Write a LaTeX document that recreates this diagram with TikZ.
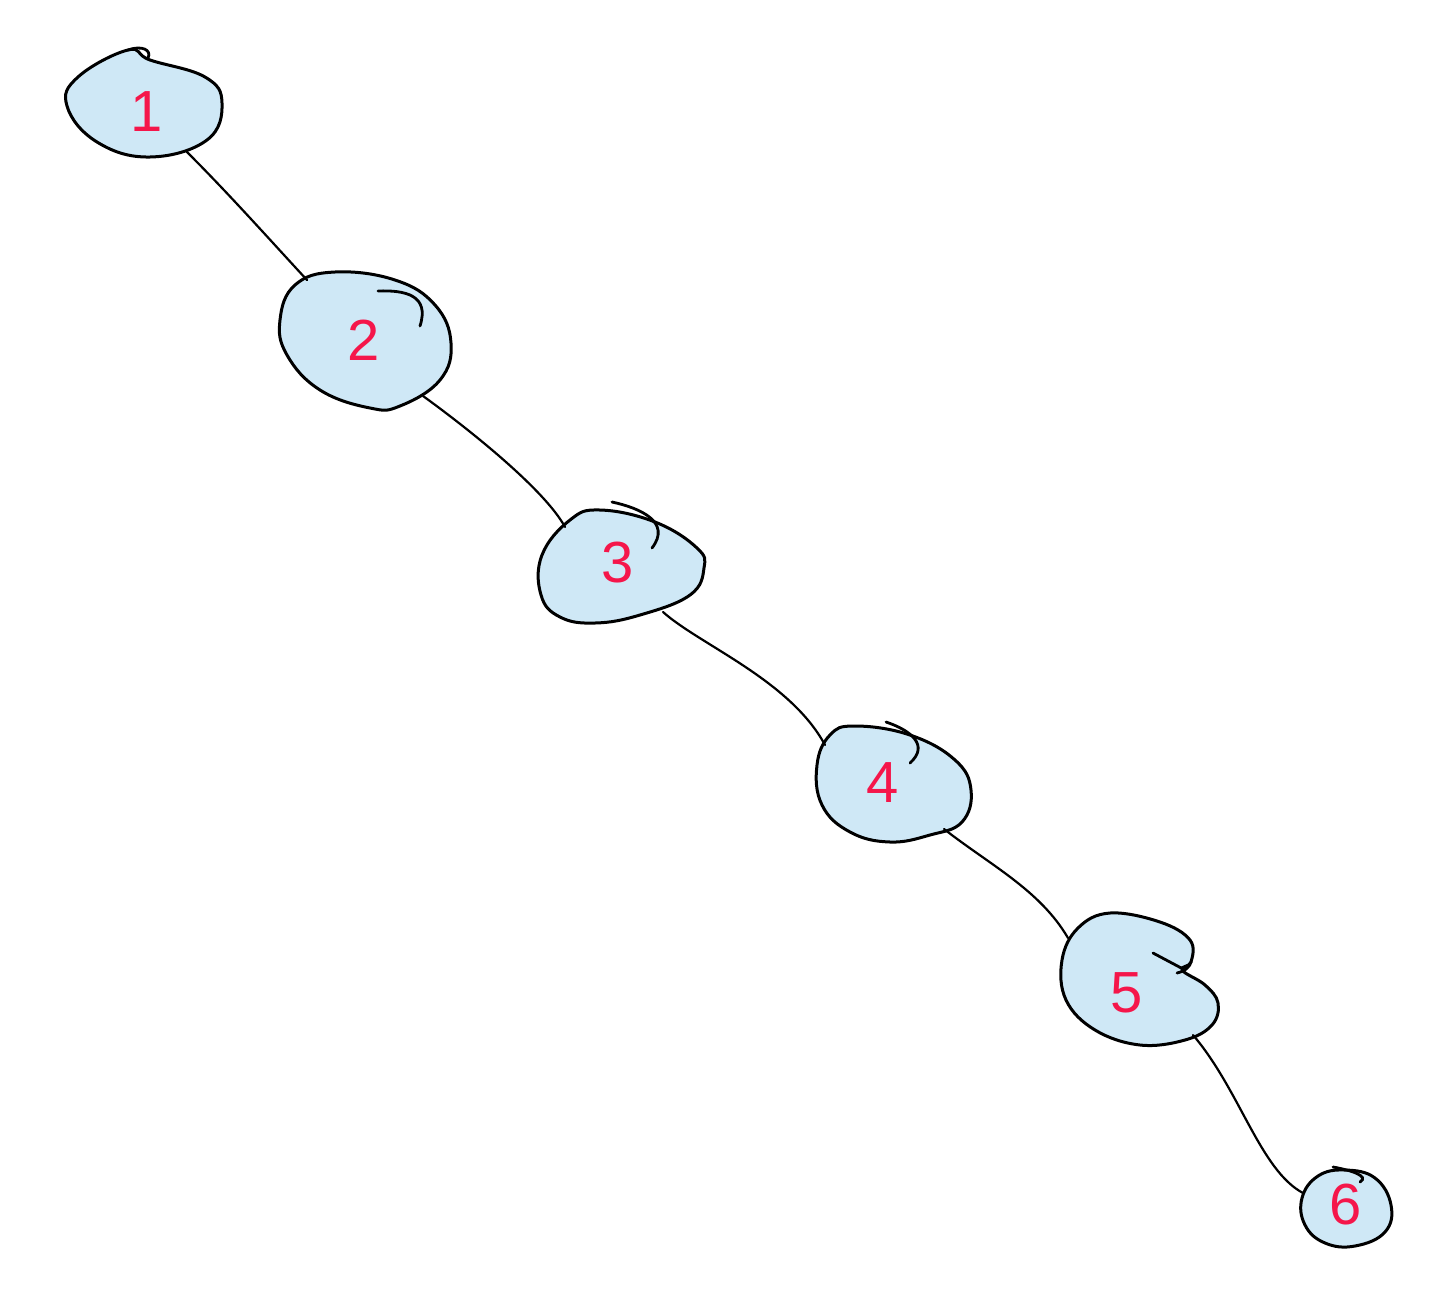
\documentclass[tikz,border=0pt]{standalone}
\usepackage{fontspec}
\setsansfont{Liberation Sans}
\definecolor{blobfill}{HTML}{CFE8F6}
\definecolor{digit}{HTML}{F5164A}
\begin{document}
\begin{tikzpicture}[x=1pt,y=-1pt,
  blob/.style={draw=black,fill=blobfill,line width=3pt,line join=round},
  tail/.style={draw=black,line width=2.8pt,line cap=round},
  link/.style={draw=black,line width=2.2pt,line cap=round},
  lbl/.style={text=digit,font=\sffamily\fontsize{58}{58}\selectfont,inner sep=0pt}]
\useasboundingbox (0,0) rectangle (1431,1315);
% blob 1
\draw[blob] plot[smooth cycle,tension=0.7] coordinates{(150,60)(205,77)(222,103)(207,140)(150,157)(97,142)(67,106)(78,77)(128,50)};
\draw[tail] (128,50) .. controls (142,45) and (152,50) .. (148,58);
% blob 2
\draw[blob] plot[smooth cycle,tension=0.7] coordinates{(335,272)(395,280)(435,305)(451,343)(440,380)(400,406)(370,408)(320,390)(287,355)(280,320)(295,285)};
\draw[tail] (378,291) .. controls (405,290) and (430,295) .. (420,326);
% blob 3
\draw[blob] plot[smooth cycle,tension=0.7] coordinates{(600,510)(655,522)(697,548)(704,568)(690,595)(640,615)(595,623)(560,617)(541,595)(542,555)(570,520)};
\draw[tail] (612,502) .. controls (640,508) and (672,522) .. (652,548);
% blob 4
\draw[blob] plot[smooth cycle,tension=0.7] coordinates{(855,726)(910,735)(955,760)(971,790)(962,822)(930,835)(890,842)(850,832)(822,805)(817,765)(830,735)};
\draw[tail] (886,722) .. controls (910,730) and (930,745) .. (910,763);
% blob 5
\draw[blob] plot[smooth cycle,tension=0.65] coordinates{(1110,913)(1160,922)(1190,940)(1191,962)(1182,970)(1205,985)(1218,1003)(1212,1025)(1185,1040)(1140,1045)(1095,1030)(1066,1000)(1062,960)(1078,928)};
\draw[tail] (1153,953) -- (1185,970);
\draw[tail] (1177,973) .. controls (1186,971) and (1190,966) .. (1191,962);
% blob 6
\draw[blob] plot[smooth cycle,tension=0.7] coordinates{(1345,1170)(1375,1178)(1391,1205)(1385,1232)(1355,1246)(1325,1243)(1305,1225)(1302,1198)(1318,1176)};
\draw[tail] (1333,1167) .. controls (1350,1170) and (1370,1176) .. (1360,1182);
% labels
\node[lbl] (n1) at (147,112) {1};
\node[lbl] (n2) at (364,340) {2};
\node[lbl] (n3) at (618,563) {3};
\node[lbl] (n4) at (883,783) {4};
\node[lbl] (n5) at (1127,993) {5};
\node[lbl] (n6) at (1346,1205) {6};
% connector ends
\coordinate (a1) at (187,152); \coordinate (b2) at (307,280);
\coordinate (a2) at (423,396); \coordinate (b3) at (565,527);
\coordinate (a3) at (663,612); \coordinate (b4) at (825,745);
\coordinate (a4) at (944,829); \coordinate (b5) at (1068,938);
\coordinate (a5) at (1193,1035); \coordinate (b6) at (1303,1193);
\draw[link] (a1) .. controls (230,195) and (270,240) .. (b2);
\draw[link] (a2) .. controls (470,430) and (545,490) .. (b3);
\draw[link] (a3) .. controls (700,645) and (790,680) .. (b4);
\draw[link] (a4) .. controls (990,865) and (1040,890) .. (b5);
\draw[link] (a5) .. controls (1240,1090) and (1260,1170) .. (b6);
\end{tikzpicture}
\end{document}
